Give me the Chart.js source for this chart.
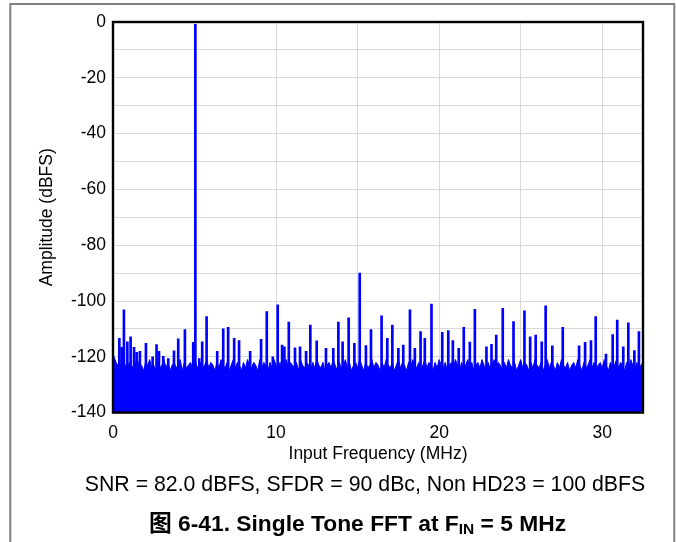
<!DOCTYPE html>
<html><head><meta charset="utf-8">
<script src="https://cdn.jsdelivr.net/npm/chart.js@4.4.1/dist/chart.umd.min.js"></script>
<style>html,body{margin:0;padding:0;background:#fff;}#wrap{width:676px;height:542px;position:relative;}</style>
</head><body><div id="wrap"><canvas id="c" width="676" height="542"></canvas></div>
<script>
// ---- data ----
const BIN_MHZ = 0.125;
const noiseFloor = [
-119,-121,-123,-122,-124,-121,-123,-125,-122,-123,
-124,-122,-121,-124,-123,-125,-122,-123,-121,-124,
-123,-125,-122,-124,-123,-121,-124,-122,-125,-123,
-122,-124,-123,-121,-125,-122,-124,-123,-122,-124,
-121,-123,-125,-122,-124,-123,-121,-124,-122,-123,
-125,-122,-124,-121,-123,-124,-122,-125,-123,-121,
-124,-122,-123,-125,-122,-124,-121,-123,-124,-122,
-123,-125,-121,-124,-122,-123,-125,-122,-124,-121,
-123,-124,-122,-125,-123,-121,-124,-122,-123,-124,
-122,-125,-121,-123,-124,-122,-123,-125,-122,-124,
-121,-123,-124,-122,-125,-123,-122,-124,-121,-123,
-125,-122,-124,-123,-121,-124,-122,-125,-123,-122,
-124,-121,-123,-125,-122,-124,-123,-121,-124,-122,
-123,-125,-122,-124,-121,-123,-124,-122,-125,-123,
-121,-124,-122,-123,-125,-122,-124,-121,-123,-124,
-122,-125,-123,-121,-124,-122,-123,-125,-122,-124,
-121,-123,-124,-122,-125,-123,-122,-124,-121,-123,
-125,-122,-124,-123,-121,-124,-122,-125,-123,-122,
-124,-121,-123,-125,-122,-124,-123,-121,-124,-122,
-123,-125,-122,-124,-121,-123,-124,-122,-125,-123,
-121,-124,-122,-123,-125,-122,-124,-121,-123,-124,
-122,-125,-123,-121,-124,-122,-123,-125,-122,-124,
-121,-123,-124,-122,-125,-123,-122,-124,-121,-123,
-125,-122,-124,-123,-121,-124,-122,-125,-123,-122,
-124,-121,-123,-125,-122,-124,-123,-121,-124,-122,
-123,-125,-122,-124,-121,-123,-124,-122,-125,-123,
-122
];
const spurFreq = [
0.39,0.53,0.67,0.88,1.08,1.29,1.45,1.65,2.02,2.43,2.67,2.82,3.08,3.39,3.74,4.0,4.41,4.92,5.29,5.47,
5.74,6.39,6.76,7.06,7.43,7.73,8.41,9.08,9.43,9.8,10.1,10.37,10.51,10.78,11.16,11.47,11.84,12.1,12.49,13.06,
13.51,13.82,14.08,14.45,14.8,15.51,15.82,16.47,16.82,17.13,17.5,17.8,18.21,18.51,18.86,19.12,19.53,20.19,20.56,20.84,
21.2,21.51,21.88,22.19,22.9,23.21,23.5,23.9,24.56,25.23,25.58,25.92,26.29,26.53,26.94,27.58,28.58,28.95,29.31,29.6,
30.23,30.64,30.92,31.29,31.6,31.97,32.25
];
const spurLevel = [
-113.4,-116.6,-103.2,-114.6,-112.8,-116.6,-118.4,-118,-115.2,-120,-115.6,-118,-119.8,-120.6,-117.9,-113.6,-110.2,-114.8,-120.6,-114.6,
-105.6,-118,-110,-109.4,-113.4,-114.2,-118,-113.7,-103.8,-120,-101.4,-115.8,-116.4,-107.6,-116.8,-116.4,-118,-108.6,-114.3,-117,
-117,-107.6,-114.6,-106,-115.2,-116,-110.2,-105.3,-113.4,-108.6,-117,-115.8,-103.2,-117,-111,-113.4,-101.1,-111.2,-110.6,-114.2,
-117,-109.4,-114.7,-103,-116.4,-115.5,-112.2,-102.6,-107.4,-103.5,-112.8,-112.2,-114.6,-101.7,-116.1,-109.4,-116.1,-114.8,-114.2,-105.6,
-119,-112,-106.8,-116.4,-107.8,-117.8,-111
];
const toneFreq = [5.05, 15.13];   // fundamental, HD3
const toneLevel = [-0.8, -90];
const xGridValues = [0, 5, 10, 15, 20, 25, 30];
const xTickLabels = [0, 10, 20, 30];
const yTickLabels = [0, -20, -40, -60, -80, -100, -120, -140];
const yTitle = 'Amplitude (dBFS)';
const xTitle = 'Input Frequency (MHz)';
const captionText = 'SNR = 82.0 dBFS, SFDR = 90 dBc, Non HD23 = 100 dBFS';
const figTitleMain = '图 6-41. Single Tone FFT at F';
const figTitleSub = 'IN';
const figTitleEnd = ' = 5 MHz';

// ---- chart ----
const FAM = '"Liberation Sans", Arial, "Noto Sans CJK SC", sans-serif';
const BLUE = '#0000ff';
const floorData = noiseFloor.map((v, i) => ({x: i * BIN_MHZ, y: v}));
const spurData = spurFreq.map((f, i) => ({x: f, y: [-140, spurLevel[i]]}))
  .concat(toneFreq.map((f, i) => ({x: f, y: [-140, toneLevel[i]]})));
const hasLabel = (list, v) => list.some(t => Math.abs(t - v) < 1e-6);

const deco = {
  id: 'deco',
  beforeDraw(chart) {
    const ctx = chart.ctx;
    ctx.save();
    ctx.fillStyle = '#fff';
    ctx.fillRect(0, 0, chart.width, chart.height);
    ctx.strokeStyle = '#808080';
    ctx.lineWidth = 2;
    ctx.beginPath();
    ctx.moveTo(10.3, 542); ctx.lineTo(10.3, 4); ctx.lineTo(674.3, 4); ctx.lineTo(674.3, 542);
    ctx.stroke();
    ctx.restore();
  },
  afterDatasetsDraw(chart) {
    const ctx = chart.ctx, a = chart.chartArea;
    ctx.save();
    ctx.strokeStyle = '#000';
    ctx.lineWidth = 2.4;
    ctx.strokeRect(a.left, a.top, a.right - a.left, a.bottom - a.top);
    ctx.restore();
  },
  afterDraw(chart) {
    const ctx = chart.ctx;
    ctx.save();
    ctx.fillStyle = '#000';
    ctx.textBaseline = 'middle';
    ctx.textAlign = 'center';
    ctx.font = '21.3px ' + FAM;
    ctx.fillText(captionText, 365, 485);
    // figure title with subscript
    const fMain = 'bold 22.8px ' + FAM, fSub = 'bold 15.5px ' + FAM;
    ctx.textAlign = 'left';
    ctx.font = fMain; const w1 = ctx.measureText(figTitleMain).width; const w3 = ctx.measureText(figTitleEnd).width;
    ctx.font = fSub; const w2 = ctx.measureText(figTitleSub).width;
    let x = 357.5 - (w1 + w2 + w3) / 2;
    const y = 525;
    ctx.font = fMain; ctx.fillText(figTitleMain, x, y); x += w1;
    ctx.font = fSub; ctx.fillText(figTitleSub, x, y + 5); x += w2;
    ctx.font = fMain; ctx.fillText(figTitleEnd, x, y);
    ctx.restore();
  }
};

new Chart(document.getElementById('c'), {
  type: 'line',
  data: {
    datasets: [
      {type: 'line', data: floorData, borderColor: BLUE, backgroundColor: BLUE, borderWidth: 1,
       fill: 'start', pointRadius: 0, tension: 0, order: 2},
      {type: 'bar', data: spurData, backgroundColor: BLUE, borderWidth: 0, barThickness: 2, order: 1}
    ]
  },
  options: {
    responsive: false, animation: false,
    layout: {padding: {left: 0, right: 33, top: 22, bottom: 77.4}},
    plugins: {legend: {display: false}, tooltip: {enabled: false}},
    scales: {
      x: {
        type: 'linear', min: 0, max: 32.5, offset: false,
        grid: {color: '#d9d9d9', lineWidth: 1, drawTicks: false, offset: false},
        border: {display: false},
        afterBuildTicks: s => { s.ticks = xGridValues.map(v => ({value: v})); },
        ticks: {padding: 10, color: '#000', maxRotation: 0, autoSkip: false,
                font: {family: FAM, size: 17.5},
                callback: v => hasLabel(xTickLabels, v) ? String(Math.round(v)) : ''},
        title: {display: true, text: xTitle, color: '#000', font: {family: FAM, size: 17.5}, padding: {top: 0, bottom: 0}},
        afterFit: s => { s.height = 52; }
      },
      y: {
        min: -140, max: 0,
        grid: {color: '#d9d9d9', lineWidth: 1, drawTicks: false},
        border: {display: false},
        ticks: {stepSize: 10, padding: 7, color: '#000', autoSkip: false,
                font: {family: FAM, size: 17.5},
                callback: v => hasLabel(yTickLabels, v) ? String(Math.round(v)) : ''},
        title: {display: true, text: yTitle, color: '#000', font: {family: FAM, size: 17.5}, padding: {top: 37, bottom: 0}},
        afterFit: s => { s.width = 113; }
      }
    }
  },
  plugins: [deco]
});
</script>
</body></html>
